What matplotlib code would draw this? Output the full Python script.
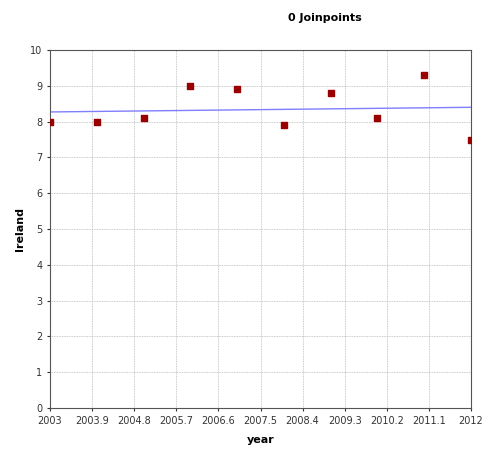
import matplotlib.pyplot as plt

years = [2003, 2004, 2005, 2006, 2007, 2008, 2009, 2010, 2011, 2012]
ireland = [8.0, 8.0, 8.1, 9.0, 8.9, 7.9, 8.8, 8.1, 9.3, 7.5]
fit_years = [2003, 2012]
fit_vals = [8.27, 8.40]
xticks = [2003, 2003.9, 2004.8, 2005.7, 2006.6, 2007.5, 2008.4, 2009.3, 2010.2, 2011.1, 2012]

fig = plt.figure(figsize=(4.87, 4.49), dpi=100)
ax = fig.add_axes([0.1027, 0.0913, 0.8645, 0.7973])

ax.plot(fit_years, fit_vals, color='#7f7fff', lw=1)
ax.scatter(years, ireland, marker='s', color='#990000', s=14, zorder=3)

ax.set_xlim(2003, 2012)
ax.set_ylim(0, 10)
ax.set_xticks(xticks)
ax.set_xticklabels([f'{t:g}' for t in xticks])
ax.set_yticks(range(0, 11))
ax.tick_params(labelsize=7, colors='#333333', length=2)
ax.grid(True, color='#b8b8b8', linestyle=(0, (1, 1)), linewidth=0.6)
for s in ax.spines.values():
    s.set_color('#555555')

ax.set_xlabel('year', fontsize=8, fontweight='bold', labelpad=7)
ax.set_ylabel('Ireland', fontsize=8, fontweight='bold', labelpad=4)
fig.text(325 / 487, 1 - 18 / 449, '0 Joinpoints', fontsize=8, fontweight='bold', ha='center', va='center')

fig.savefig('out.png', dpi=100)
